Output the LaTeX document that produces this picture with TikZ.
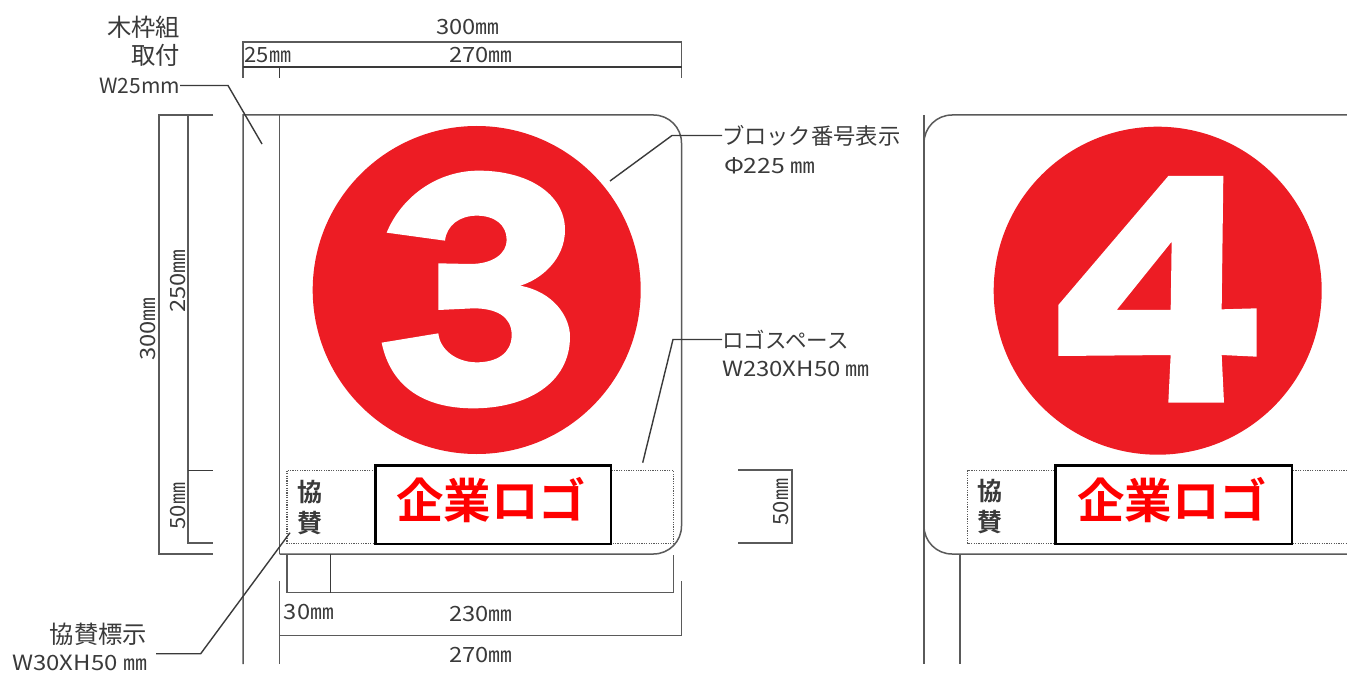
\documentclass[tikz,border=0pt]{standalone}
\usepackage{graphicx}
\usepackage{fontspec}
\newfontfamily\jp{Noto Sans CJK JP}
\newfontfamily\jpb{Noto Sans CJK JP Bold}
\newcommand{\wdn}[2][1.13]{\scalebox{#1}[1]{#2}}
\definecolor{brandred}{HTML}{ED1C24}
\definecolor{ink}{HTML}{3A3A3A}
\definecolor{wire}{HTML}{5A5A5A}
\tikzset{
  wireline/.style={draw=wire,line width=1.5pt},
  leaderline/.style={draw=ink,line width=1.4pt},
  dotbox/.style={draw=wire,line width=1.1pt,dash pattern=on 1.2pt off 1.2pt},
  lbl/.style={inner sep=0pt,outer sep=0pt,text=ink,font=\jp\fontsize{21}{21}\selectfont},
  lblbig/.style={inner sep=0pt,outer sep=0pt,text=ink,font=\jp\fontsize{24.3}{24.3}\selectfont},
  logotxt/.style={inner sep=0pt,text=red,font=\jpb\fontsize{47.5}{47.5}\selectfont},
  spons/.style={inner sep=0pt,text=ink,font=\jpb\fontsize{25}{25}\selectfont},
  logobox/.style={draw=black,line width=2.6pt,fill=white,minimum height=78.5pt,inner sep=0pt,outer sep=0pt,anchor=north west},
}
\begin{document}
\begin{tikzpicture}[x=1pt,y=-1pt]
\useasboundingbox (0,0) rectangle (1347,674);
\fill[white] (0,0) rectangle (1347,674);
% circles and digits
\fill[brandred] (476.7,290) circle[radius=164];
\fill[brandred] (1157.7,290.7) circle[radius=164];
\begin{scope}[shift={(300,120)},x=0.33333pt,y=-0.33333pt]
\fill[white] (260,338) .. controls (300,240) and (400,155) .. (530,152)
 .. controls (680,150) and (795,220) .. (795,330)
 .. controls (795,420) and (720,480) .. (660,497)
 .. controls (760,515) and (810,590) .. (810,650)
 .. controls (810,790) and (680,865) .. (520,865)
 .. controls (360,865) and (270,790) .. (245,668)
 -- (415,640)
 .. controls (420,690) and (470,727) .. (530,727)
 .. controls (590,727) and (635,700) .. (635,645)
 .. controls (635,590) and (590,565) .. (520,565)
 -- (415,570) -- (415,430) -- (510,432)
 .. controls (580,432) and (620,400) .. (620,360)
 .. controls (620,315) and (585,287) .. (530,287)
 .. controls (480,287) and (440,315) .. (435,362) -- cycle;
\end{scope}
\begin{scope}[shift={(980,120)},x=0.33333pt,y=-0.33333pt]
\fill[white,even odd rule] (565,168) -- (730,168) -- (725,568) -- (830,565) -- (830,710) -- (725,705) -- (732,848) -- (565,848) -- (572,705) -- (235,708) -- (235,555) -- cycle
 (575,365) -- (572,570) -- (410,570) -- cycle;
\end{scope}
% sign 3 frame
\coordinate (fTL) at (243,115);
\coordinate (fBL) at (279.7,554);
\draw[wireline] (243,664) -- (fTL) -- (653.5,115) arc[start angle=-90,end angle=0,radius=28] -- (681.5,526) arc[start angle=0,end angle=90,radius=28] -- (fBL);
\draw[wireline] (279.7,115) -- (fBL);
\draw[wireline] (279.7,581) -- (279.7,664);
% overall dims
\draw[wireline] (243,78) -- (243,42) -- (681.5,42) -- (681.5,78);
\draw[leaderline] (243,67) -- (681.5,67);
\draw[leaderline] (279.7,67) -- (279.7,78);
\draw[wireline] (213,115) -- (159,115) -- (159,554) -- (213,554);
\draw[wireline] (213,115) -- (188,115) -- (188,543) -- (213,543);
\draw[leaderline] (188,470.5) -- (213,470.5);
\draw[wireline] (738,470) -- (792,470) -- (792,543) -- (738,543);
\draw[wireline] (287,554) -- (287,592.5) -- (673.5,592.5) -- (673.5,555);
\draw[leaderline] (330.5,554) -- (330.5,592.5);
\draw[wireline] (279.7,635.5) -- (681.5,635.5) -- (681.5,581);
% logo zones sign 3
\draw[dotbox] (287,470.7) rectangle (673.5,543.5);
\node[logobox,minimum width=235.5pt] (logoA) at (375.3,465.5) {};
\node[logotxt] (logoAt) at (491,500.5) {企業ロゴ};
\node[spons] (kyoA) at (310,492) {協};
\node[spons] (sanA) at (310,523) {賛};
% sign 4 frame
\draw[wireline] (924,115) -- (924,664);
\draw[wireline] (924,143) arc[start angle=180,end angle=270,radius=28] -- (1347,115);
\draw[wireline] (924,526) arc[start angle=180,end angle=90,radius=28] -- (1347,554);
\draw[wireline] (960,554) -- (960,664);
\draw[dotbox] (1347,470.7) -- (967.5,470.7) -- (967.5,543.5) -- (1347,543.5);
\node[logobox,minimum width=236.5pt] (logoB) at (1055.3,465.5) {};
\node[logotxt] (logoBt) at (1172,500.5) {企業ロゴ};
\node[spons] (kyoB) at (990,491) {協};
\node[spons] (sanB) at (990,522) {賛};
% labels
\node[lblbig,anchor=east] (wa) at (180,27) {木枠組};
\node[lblbig,anchor=east] (wb) at (180,55) {取付};
\node[lbl,anchor=east] (wc) at (180,85.5) {W25mm};
\node[lbl] (t300) at (468,27) {\wdn{300㎜}};
\node[lbl] (t25) at (268,55) {\wdn[1.05]{25㎜}};
\node[lbl] (t270) at (481,55) {\wdn{270㎜}};
\node[lbl,anchor=west,font=\jp\fontsize{22.3}{22.3}\selectfont] (blk) at (722,135.5) {ブロック番号表示};
\node[lbl,anchor=west] (phi) at (724,166) {\wdn[1.18]{Φ225 ㎜}};
\node[lbl,anchor=west,font=\jp\fontsize{21.5}{21.5}\selectfont] (lg) at (722,339.5) {ロゴスペース};
\node[lbl,anchor=west] (lgd) at (722,369) {\wdn[1.14]{W230XH50 ㎜}};
\node[lblbig,anchor=east] (ks) at (147,634) {協賛標示};
\node[lbl,anchor=east] (ksd) at (147,663) {\wdn[1.14]{W30XH50 ㎜}};
\node[lbl] (b30) at (309,612) {\wdn{30㎜}};
\node[lbl] (b230) at (481,614) {\wdn{230㎜}};
\node[lbl] (b270) at (481,655) {\wdn{270㎜}};
\node[lbl,rotate=90] (r300) at (148,329) {\wdn{300㎜}};
\node[lbl,rotate=90] (r250) at (178,281) {\wdn{250㎜}};
\node[lbl,rotate=90] (r50) at (178,506) {\wdn[1.05]{50㎜}};
\node[lbl,rotate=90] (r50b) at (781,502) {\wdn[1.05]{50㎜}};
% leaders
\coordinate (woodTip) at (262,144);
\coordinate (circTip) at (610,181);
\coordinate (zoneTip) at (642.7,462.7);
\coordinate (sponsTip) at (290,532.7);
\coordinate (sponsEnd) at (156,653.7);
\draw[leaderline] (wc.east) -- (228,85.5) -- (woodTip);
\draw[leaderline] (blk.west) -- (672,135.5) -- (circTip);
\draw[leaderline] (lg.west) -- (673,339.5) -- (zoneTip);
\draw[leaderline] (sponsEnd) -- (200.7,653.7) -- (sponsTip);
\end{tikzpicture}
\end{document}
